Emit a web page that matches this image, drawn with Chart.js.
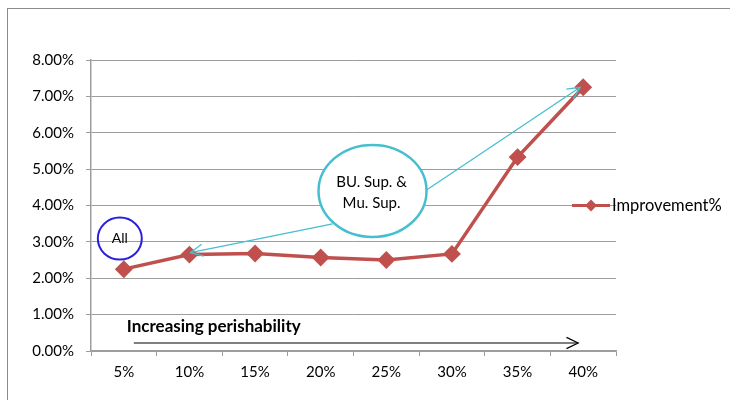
<!DOCTYPE html>
<html>
<head>
<meta charset="utf-8">
<script src="https://cdn.jsdelivr.net/npm/chart.js@4.4.1/dist/chart.umd.min.js"></script>
<style>
  html, body { margin: 0; padding: 0; background: #fff; }
  #wrap { width: 730px; height: 400px; position: relative; }
</style>
</head>
<body>
<div id="wrap"><canvas id="chart" width="730" height="400"></canvas></div>
<script>
// perishability levels (x axis)
const categories = ['5%', '10%', '15%', '20%', '25%', '30%', '35%', '40%'];
// improvement in percent
const improvement = [2.25, 2.65, 2.68, 2.57, 2.50, 2.67, 5.33, 7.25];
const seriesName = 'Improvement%';
const yTicks = [0, 1, 2, 3, 4, 5, 6, 7, 8];

const FONT = 'Lato, "Open Sans", sans-serif';
const LINE_RED = '#c0504d';
const GRID = '#9d9d9d';

function arrowHead(ctx, x1, y1, x2, y2, len) {
    const a = Math.atan2(y2 - y1, x2 - x1);
    ctx.beginPath();
    ctx.moveTo(x2 - len * Math.cos(a - 0.45), y2 - len * Math.sin(a - 0.45));
    ctx.lineTo(x2, y2);
    ctx.lineTo(x2 - len * Math.cos(a + 0.45), y2 - len * Math.sin(a + 0.45));
    ctx.stroke();
}

// frame, callouts and legend drawn on top of the library's scales
const extras = {
    id: 'extras',
    beforeDraw(chart) {
        const ctx = chart.ctx;
        ctx.save();
        ctx.strokeStyle = '#8c8c8c';
        ctx.lineWidth = 1;
        ctx.strokeRect(7.5, 8.5, 760, 420);
        ctx.restore();
    },
    afterDatasetsDraw(chart) {
        const ctx = chart.ctx;
        const x = chart.scales.x, y = chart.scales.y;
        const step = x.getPixelForValue(1) - x.getPixelForValue(0);
        ctx.save();

        // "Increasing perishability" label and arrow
        ctx.fillStyle = '#000';
        ctx.font = 'bold 17px ' + FONT;
        ctx.textAlign = 'left';
        ctx.textBaseline = 'alphabetic';
        ctx.fillText('Increasing perishability', x.getPixelForValue(0) + 3, y.getPixelForValue(0.53));
        const ay = y.getPixelForValue(0.22);
        const ax1 = x.getPixelForValue(0) + 10, ax2 = x.getPixelForValue(7) - 5;
        ctx.strokeStyle = '#000';
        ctx.lineWidth = 1.2;
        ctx.beginPath(); ctx.moveTo(ax1, ay); ctx.lineTo(ax2, ay); ctx.stroke();
        arrowHead(ctx, ax1, ay, ax2, ay, 13);

        // "All" circle
        const cx = x.getPixelForValue(0) - 4, cy = y.getPixelForValue(3.09);
        ctx.strokeStyle = '#2b1fd9';
        ctx.lineWidth = 2;
        ctx.beginPath(); ctx.ellipse(cx, cy, 22, 21, 0, 0, Math.PI * 2); ctx.stroke();
        ctx.fillStyle = '#000';
        ctx.font = '14px ' + FONT;
        ctx.textAlign = 'center';
        ctx.textBaseline = 'middle';
        ctx.fillText('All', cx, cy);

        // BU/Mu callout with arrows to 10% and 40%
        const ex = x.getPixelForValue(3) + 0.79 * step, ey = y.getPixelForValue(4.4);
        const cyan = '#45bfcf';
        ctx.strokeStyle = cyan;
        ctx.lineWidth = 1.3;
        const p1x = x.getPixelForValue(1), p1y = y.getPixelForValue(improvement[1]);
        const s1x = ex - 40, s1y = ey + 33;
        ctx.beginPath(); ctx.moveTo(s1x, s1y); ctx.lineTo(p1x + 1, p1y - 2); ctx.stroke();
        arrowHead(ctx, s1x, s1y, p1x + 1, p1y - 2, 14);
        const p2x = x.getPixelForValue(7), p2y = y.getPixelForValue(improvement[7]);
        const s2x = ex + 54, s2y = ey - 1;
        ctx.beginPath(); ctx.moveTo(s2x, s2y); ctx.lineTo(p2x - 3, p2y); ctx.stroke();
        arrowHead(ctx, s2x, s2y, p2x - 3, p2y, 14);
        ctx.lineWidth = 2.5;
        ctx.fillStyle = '#fff';
        ctx.beginPath(); ctx.ellipse(ex, ey, 54, 46, 0, 0, Math.PI * 2); ctx.fill(); ctx.stroke();
        ctx.fillStyle = '#000';
        ctx.font = '15px ' + FONT;
        ctx.fillText('BU. Sup. &', ex - 1, ey - 9);
        ctx.fillText('Mu. Sup.', ex - 1, ey + 12);

        // legend
        const ly = y.getPixelForValue(4.0);
        const lx = x.right - 44;
        ctx.strokeStyle = LINE_RED;
        ctx.lineWidth = 3;
        ctx.beginPath(); ctx.moveTo(lx, ly); ctx.lineTo(lx + 38, ly); ctx.stroke();
        ctx.fillStyle = LINE_RED;
        ctx.beginPath();
        ctx.moveTo(lx + 19, ly - 6); ctx.lineTo(lx + 25, ly); ctx.lineTo(lx + 19, ly + 6); ctx.lineTo(lx + 13, ly);
        ctx.closePath(); ctx.fill();
        ctx.fillStyle = '#000';
        ctx.font = '16.5px ' + FONT;
        ctx.textAlign = 'left';
        ctx.fillText(seriesName, lx + 40, ly);
        ctx.restore();
    }
};

new Chart(document.getElementById('chart'), {
    type: 'line',
    data: {
        labels: categories,
        datasets: [{
            label: seriesName,
            data: improvement,
            borderColor: LINE_RED,
            backgroundColor: LINE_RED,
            borderWidth: 3.5,
            pointStyle: 'rectRot',
            pointRadius: 6.5,
            pointHoverRadius: 6.5,
            tension: 0
        }]
    },
    options: {
        responsive: false,
        animation: false,
        devicePixelRatio: 1,
        layout: { padding: { left: 0, top: 60, right: 114, bottom: 0 } },
        plugins: { legend: { display: false }, tooltip: { enabled: false } },
        scales: {
            x: {
                offset: true,
                grid: { offset: true, drawOnChartArea: false, drawTicks: true, tickLength: 5, color: GRID },
                border: { color: GRID, width: 1.5 },
                ticks: { color: '#000', font: { family: FONT, size: 15 }, padding: 7, maxRotation: 0 },
                afterFit: s => { s.height = 49; }
            },
            y: {
                min: 0, max: 8,
                afterBuildTicks: s => { s.ticks = yTicks.map(v => ({ value: v })); },
                grid: { color: GRID, tickLength: 5, lineWidth: 1 },
                border: { color: GRID, width: 1.5 },
                ticks: {
                    color: '#000', font: { family: FONT, size: 15 }, padding: 12,
                    callback: v => v.toFixed(2) + '%'
                },
                afterFit: s => { s.width = 91; }
            }
        }
    },
    plugins: [extras]
});
</script>
</body>
</html>
